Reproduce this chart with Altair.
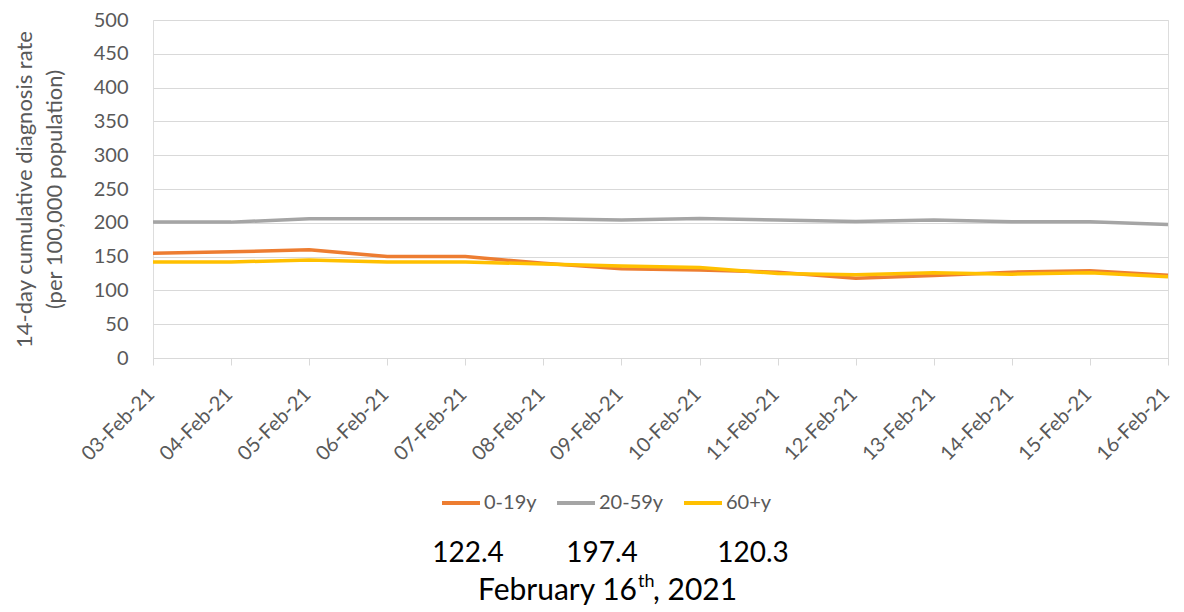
import altair as alt
import pandas as pd

dates = ["03-Feb-21", "04-Feb-21", "05-Feb-21", "06-Feb-21", "07-Feb-21", "08-Feb-21",
         "09-Feb-21", "10-Feb-21", "11-Feb-21", "12-Feb-21", "13-Feb-21", "14-Feb-21",
         "15-Feb-21", "16-Feb-21"]
series_names = ["0-19y", "20-59y", "60+y"]
age_0_19 = [155, 157, 160, 150, 150, 140, 132, 130, 127, 118, 122, 127, 129, 122.4]
age_20_59 = [201, 201, 206, 206, 206, 206, 204, 206.5, 204, 202, 204, 201.5, 201.5, 197.4]
age_60_plus = [142, 142, 145, 142, 142, 139, 136, 134, 125, 123, 126, 124, 126, 120.3]
colors = ["#ED7D31", "#A5A5A5", "#FFC000"]
y_ticks = list(range(0, 501, 50))
latest_values = ["122.4", "197.4", "120.3"]
date_line = ["February 16", "th", ", 2021"]

rows = []
for name, vals in zip(series_names, [age_0_19, age_20_59, age_60_plus]):
    for d, v in zip(dates, vals):
        rows.append({"date": d, "series": name, "value": v})
df = pd.DataFrame(rows)

FONT = "Lato"
GREY_TXT = "#595959"

lines = alt.Chart(df).mark_line(strokeWidth=3.5).encode(
    x=alt.X("date:N", sort=dates, title=None,
            scale=alt.Scale(type="point", padding=0),
            axis=alt.Axis(labelAngle=-45, labelAlign="right", labelBaseline="middle",
                          labelFontSize=20, labelColor=GREY_TXT, labelFont=FONT,
                          labelPadding=26, labelOffset=-2, tickSize=7, tickColor="#D9D9D9",
                          domainColor="#D9D9D9", grid=False)),
    y=alt.Y("value:Q", title=["14-day cumulative diagnosis rate", "(per 100,000 population)"],
            scale=alt.Scale(domain=[0, 500], nice=False),
            axis=alt.Axis(values=y_ticks, labelFontSize=20, labelColor=GREY_TXT, labelFont=FONT,
                          labelPadding=25, ticks=False, domain=False, grid=True,
                          gridColor="#D9D9D9", titleFontSize=22, titleFont=FONT,
                          titleColor=GREY_TXT, titleFontWeight="normal", titlePadding=27,
                          titleLineHeight=30)),
    color=alt.Color("series:N", scale=alt.Scale(domain=series_names, range=colors),
                    legend=alt.Legend(title=None, orient="none", legendX=287, legendY=462,
                                      direction="horizontal", symbolType="stroke",
                                      symbolSize=1444, symbolStrokeWidth=4,
                                      labelFontSize=20, labelColor=GREY_TXT, labelFont=FONT,
                                      labelOffset=2, columnPadding=12)),
    order=alt.Order("series:N"),
)

num_df = pd.DataFrame({"label": latest_values, "pos": [315, 449, 600]})
nums = alt.Chart(num_df).mark_text(fontSize=28, font=FONT, color="#000000",
                                   align="center", baseline="alphabetic").encode(
    x=alt.X("pos:Q", scale=None), y=alt.value(542), text="label:N")

d1 = alt.Chart(pd.DataFrame({"t": [date_line[0]]})).mark_text(
    fontSize=30, font=FONT, color="#000000", align="right", baseline="alphabetic").encode(
    x=alt.value(484), y=alt.value(580), text="t:N")
d2 = alt.Chart(pd.DataFrame({"t": [date_line[1]]})).mark_text(
    fontSize=18, font=FONT, color="#000000", align="left", baseline="alphabetic").encode(
    x=alt.value(485), y=alt.value(567), text="t:N")
d3 = alt.Chart(pd.DataFrame({"t": [date_line[2]]})).mark_text(
    fontSize=30, font=FONT, color="#000000", align="left", baseline="alphabetic").encode(
    x=alt.value(500), y=alt.value(580), text="t:N")

chart = alt.layer(lines, nums, d1, d2, d3).properties(
    width=1015, height=338,
    autosize=alt.AutoSizeParams(type="none"),
    padding={"left": 145, "top": 12, "right": 8, "bottom": 250},
).configure_view(stroke=None).configure(font=FONT)

chart.save("out.html", embed_options={"renderer": "svg", "actions": False})
